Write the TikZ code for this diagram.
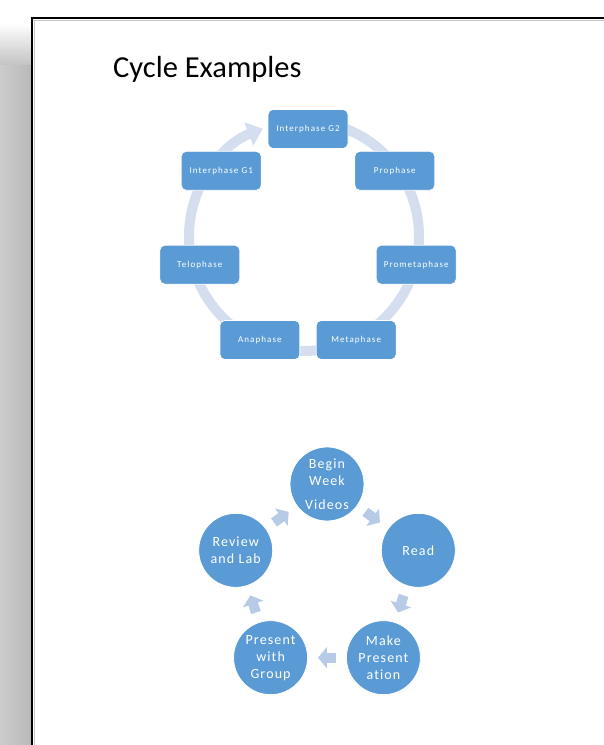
\documentclass[tikz,border=0pt]{standalone}
\usepackage{fontspec}
\setmainfont{Carlito}
\newfontfamily\stagefont{Carlito}[LetterSpace=8, Ligatures=NoCommon]
\newfontfamily\phasefont{Carlito}[LetterSpace=12, Ligatures=NoCommon]
\usetikzlibrary{arrows.meta, calc}
\definecolor{nodeblue}{RGB}{91,155,213}
\definecolor{ringblue}{RGB}{212,222,239}
\definecolor{flowblue}{RGB}{183,202,232}

\begin{document}
\begin{tikzpicture}[x=1pt, y=1pt,
  phase/.style={rectangle, draw=white, line width=0.8pt, fill=nodeblue,
                rounded corners=5pt, minimum width=80pt, minimum height=39pt,
                text=white, font=\phasefont\fontsize{9}{11}\selectfont},
  stage/.style={circle, draw=white, line width=0.8pt, fill=nodeblue,
                minimum size=74pt, inner sep=0pt, align=center,
                text=white, font=\stagefont\fontsize{14}{17}\selectfont},
  ring/.style={draw=ringblue, line width=10pt, -{Triangle[width=24pt,length=15pt]}},
  flow/.style={draw=flowblue, line width=10pt, -{Triangle[width=21pt,length=9pt]}}
]
\useasboundingbox (0,0) rectangle (604,745);
% page frame and its shadow
\shade[left color=gray!40, right color=gray!55] (0,0) rectangle (31,680);
\shade[top color=white, bottom color=gray!47] (0,680) rectangle (31,722);
\draw[gray!45, line width=0.8pt] (34.5,0) -- (34.5,724.7) -- (604,724.7);
\draw[line width=2.4pt] (32.2,0) -- (32.2,727) -- (604,727);

\node[anchor=base west, inner sep=0pt, font=\fontsize{30.5}{36}\selectfont] (title)
  at (113,667) {Cycle Examples};

% cell cycle
\draw[ring] ($(304,509)+(80:115)$) arc[start angle=80, end angle=-249, radius=115];
\begin{scope}[shift={(308,505)}]
\node[phase] (g2) at (90:111) {Interphase G2};
\node[phase] (prophase) at (38.57:111) {Prophase};
\node[phase] (prometaphase) at (-12.86:111) {Prometaphase};
\node[phase] (metaphase) at (-64.29:111) {Metaphase};
\node[phase] (anaphase) at (-115.71:111) {Anaphase};
\node[phase] (telophase) at (-167.14:111) {Telophase};
\node[phase] (g1) at (141.43:111) {Interphase G1};
\end{scope}

% weekly cycle
\begin{scope}[shift={(327,165)}]
\node[stage] (begin) at (90:96) {Begin\\Week\\[7pt]Videos};
\node[stage] (read) at (18:96) {Read};
\node[stage] (make) at (-54:96) {Make\\Present\\ation};
\node[stage] (present) at (-126:96) {Present\\with\\Group};
\node[stage] (review) at (162:96) {Review\\and Lab};
\end{scope}
\draw[flow] ($(begin)!0.42!(read)$) -- ($(begin)!0.58!(read)$);
\draw[flow] ($(read)!0.42!(make)$) -- ($(read)!0.58!(make)$);
\draw[flow] ($(make)!0.42!(present)$) -- ($(make)!0.58!(present)$);
\draw[flow] ($(present)!0.42!(review)$) -- ($(present)!0.58!(review)$);
\draw[flow] ($(review)!0.42!(begin)$) -- ($(review)!0.58!(begin)$);
\end{tikzpicture}
\end{document}
